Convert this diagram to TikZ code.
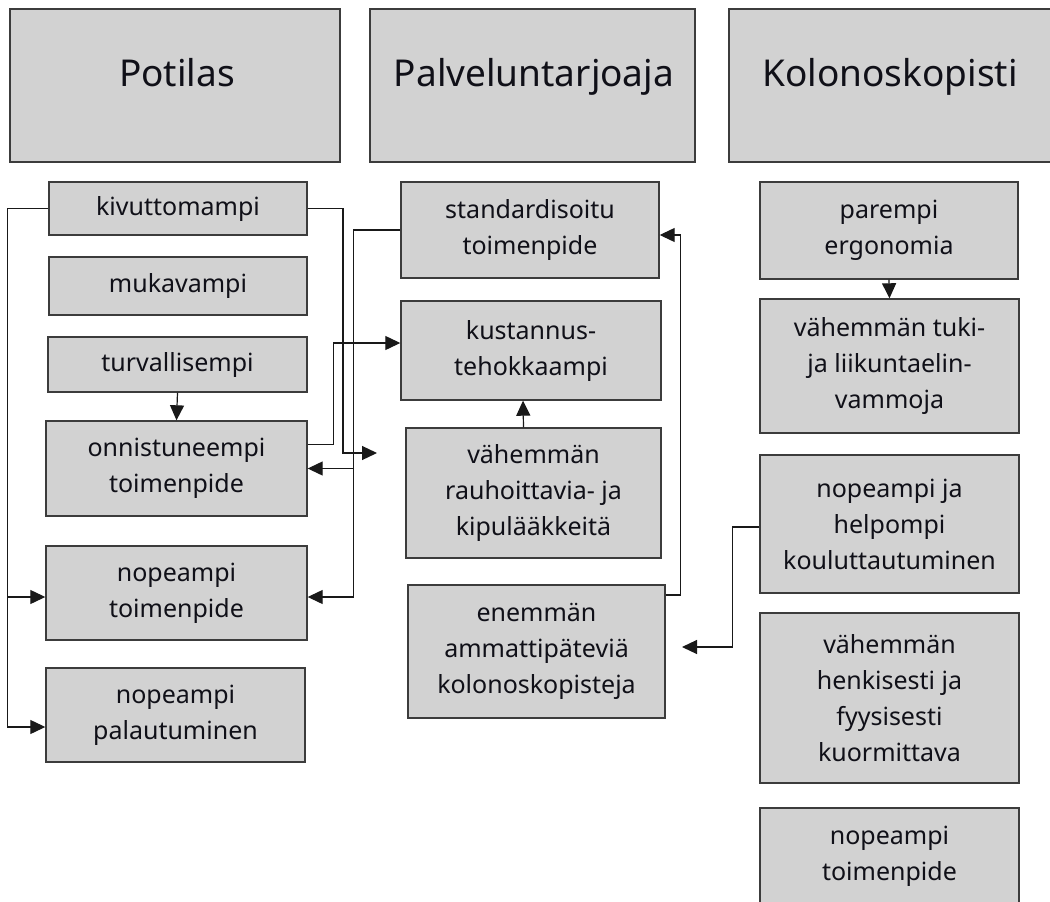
\documentclass[tikz,border=0pt]{standalone}
\usepackage{fontspec}
\setmainfont{Noto Sans}
\usetikzlibrary{arrows.meta,calc}
\definecolor{boxfill}{HTML}{D2D2D2}
\definecolor{boxline}{HTML}{3C3C3C}
\definecolor{txt}{HTML}{101018}
\begin{document}
\begin{tikzpicture}[x=1pt,y=-1pt,
  box/.style={draw=boxline, line width=1.4pt, fill=boxfill, inner sep=0pt, align=center, text=txt, font=\fontsize{25}{36}\selectfont},
  hbox/.style={draw=boxline, line width=1.4pt, fill=boxfill, inner sep=0pt},
  htext/.style={text=txt, font=\fontsize{37}{40}\selectfont, inner sep=0pt, anchor=base},
  conn/.style={draw=black!90, line width=1.2pt},
  arr/.style={conn, -{Triangle[length=15pt,width=14pt]}}]
\useasboundingbox[fill=white] (0,0) rectangle (1050,902);

% headers
\node[hbox, minimum width=330pt, minimum height=153pt] (hP) at (175,85.5) {};
\node[htext] (tP) at (177,86) {Potilas};
\node[hbox, minimum width=325pt, minimum height=153pt] (hS) at (532.5,85.5) {};
\node[htext] (tS) at (534,86) {Palveluntarjoaja};
\node[hbox, minimum width=335pt, minimum height=153pt] (hK) at (896.5,85.5) {};
\node[htext] (tK) at (890,86) {Kolonoskopisti};

% Potilas column
\node[box, minimum width=258pt, minimum height=53pt] (p1) at (178,208.5) {kivuttomampi};
\node[box, minimum width=258pt, minimum height=58pt] (p2) at (178,286) {mukavampi};
\node[box, minimum width=259pt, minimum height=55pt] (p3) at (177.5,364.5) {turvallisempi};
\node[box, minimum width=261pt, minimum height=95pt] (p4) at (176.5,468.5) {onnistuneempi\\toimenpide};
\node[box, minimum width=261pt, minimum height=94pt] (p5) at (176.5,593) {nopeampi\\toimenpide};
\node[box, minimum width=259pt, minimum height=94pt] (p6) at (175.5,715) {nopeampi\\palautuminen};

% Palveluntarjoaja column
\node[box, minimum width=258pt, minimum height=96pt] (s1) at (530,230) {standardisoitu\\toimenpide};
\node[box, minimum width=260pt, minimum height=99pt] (s2) at (531,350.5) {kustannus-\\tehokkaampi};
\node[box, minimum width=255pt, minimum height=130pt] (s3) at (533.5,493) {vähemmän\\rauhoittavia- ja\\kipulääkkeitä};
\node[box, minimum width=257pt, minimum height=133pt] (s4) at (536.5,651.5) {enemmän\\ammattipäteviä\\kolonoskopisteja};

% Kolonoskopisti column
\node[box, minimum width=258pt, minimum height=97pt] (k1) at (889,230.5) {parempi\\ergonomia};
\node[box, minimum width=259pt, minimum height=134pt] (k2) at (889.5,366) {vähemmän tuki-\\ja liikuntaelin-\\vammoja};
\node[box, minimum width=259pt, minimum height=138pt] (k3) at (889.5,524) {nopeampi ja\\helpompi\\kouluttautuminen};
\node[box, minimum width=259pt, minimum height=170pt] (k4) at (889.5,698) {vähemmän\\henkisesti ja\\fyysisesti\\kuormittava};
\node[box, minimum width=259pt, minimum height=97pt] (k5) at (889.5,856.5) {nopeampi\\toimenpide};

% free ends / branch points
\coordinate (e1) at (377,453);
\coordinate (e2) at (682,647);
\coordinate (bl) at (8,597);
\coordinate (br) at (354,468.5);

% connectors
\draw[arr] (p1.west) -- ++(-41,0) |- ([yshift=-12pt]p6.west);
\draw[arr] (bl) -- (bl -| p5.west);
\draw[arr] (p1.east) -| (343,453) -- (e1);
\draw[arr] (p3.south) -- (p4.north);
\draw[arr] ([yshift=24pt]p4.east) -- ++(26,0) |- ([yshift=7.5pt]s2.west);
\draw[arr] (s1.west) -- ++(-47,0) |- ([yshift=-4pt]p5.east);
\draw[arr] (br) -- (p4.east);
\draw[arr] ([xshift=-10pt]s3.north) -- ([xshift=-8pt]s2.south);
\draw[arr] ([yshift=56.5pt]s4.east) -- ++(15,0) |- ([yshift=-5pt]s1.east);
\draw[arr] (k1.south) -- (k2.north);
\draw[arr] ([yshift=-3pt]k3.west) -- ++(-27,0) |- (e2);
\end{tikzpicture}
\end{document}
